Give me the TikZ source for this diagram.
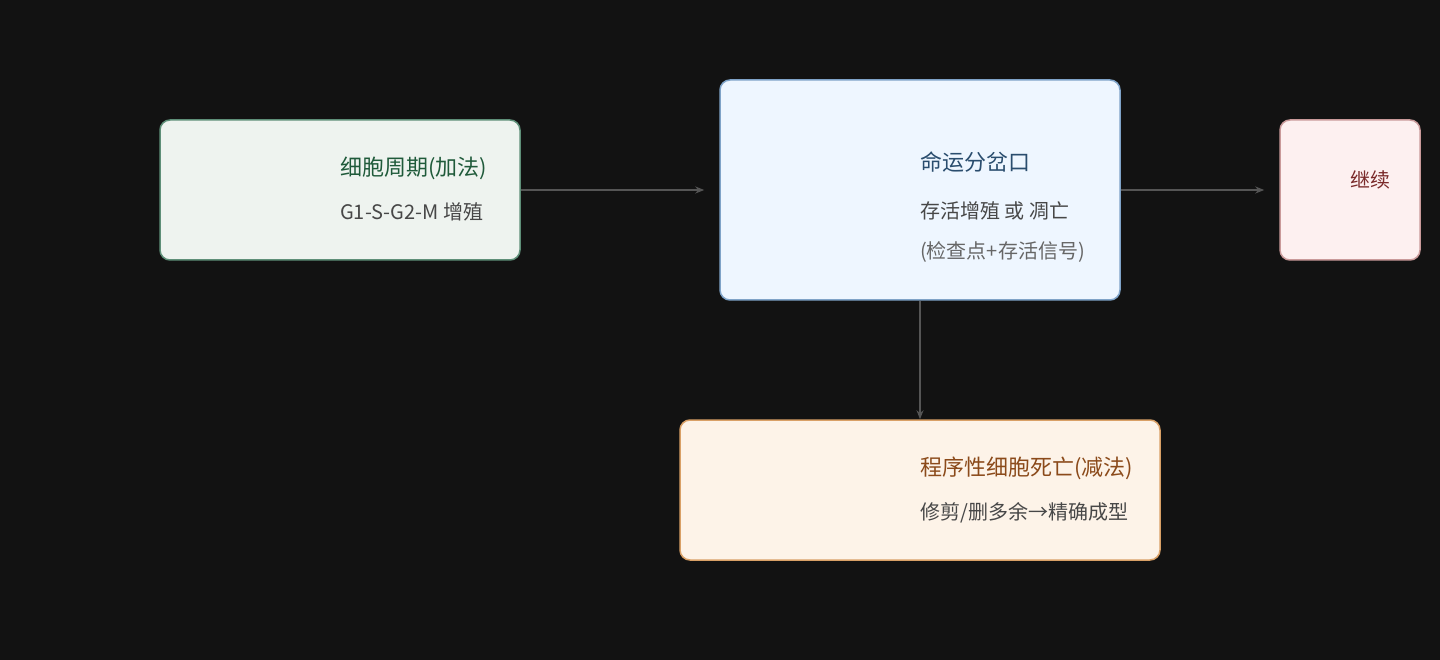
\documentclass[tikz,border=0pt]{standalone}
\usepackage{fontspec}
\setmainfont{Noto Sans CJK SC}
\usetikzlibrary{arrows.meta}
\definecolor{bgc}{HTML}{121212}
\definecolor{linec}{HTML}{555555}
\definecolor{grnline}{HTML}{5E8F78}
\definecolor{grnfill}{HTML}{EEF3EF}
\definecolor{grntext}{HTML}{1F5A3A}
\definecolor{bluline}{HTML}{7FA3C8}
\definecolor{blufill}{HTML}{EEF6FF}
\definecolor{blutext}{HTML}{2A4D6E}
\definecolor{redline}{HTML}{C99A9A}
\definecolor{redfill}{HTML}{FDF0F0}
\definecolor{redtext}{HTML}{7A2A2A}
\definecolor{orgline}{HTML}{D9A066}
\definecolor{orgfill}{HTML}{FDF3E8}
\definecolor{orgtext}{HTML}{8B4A1A}
\tikzset{
  box/.style={rounded corners=10pt,line width=1.5pt,inner sep=0pt},
  ttl/.style={anchor=base west,inner sep=0pt,font=\fontsize{22}{26}\selectfont},
  sub/.style={anchor=base west,inner sep=0pt,font=\fontsize{20}{24}\selectfont,text=black!72},
  flow/.style={-{Stealth[length=9pt,width=7pt]},draw=linec,line width=2pt}
}
\begin{document}
\begin{tikzpicture}[x=1pt,y=-1pt]
\fill[bgc] (0,0) rectangle (1440,660);
\useasboundingbox (0,0) rectangle (1440,660);

% boxes
\node[box,draw=grnline,fill=grnfill,minimum width=360pt,minimum height=140pt] (cycle) at (340,190) {};
\node[box,draw=bluline,fill=blufill,minimum width=400pt,minimum height=220pt] (fate) at (920,190) {};
\node[box,draw=redline,fill=redfill,minimum width=140pt,minimum height=140pt] (cont) at (1350,190) {};
\node[box,draw=orgline,fill=orgfill,minimum width=480pt,minimum height=140pt] (death) at (920,490) {};

% texts
\node[ttl,text=grntext] (cycleT) at (340,176) {细胞周期(加法)};
\node[sub] (cycleS) at (340,220) {G1-S-G2-M 增殖};
\node[ttl,text=blutext] (fateT) at (920,171) {命运分岔口};
\node[sub] (fateS) at (920,219) {存活增殖 或 凋亡};
\node[sub,text=black!60] (fateN) at (920,259) {(检查点+存活信号)};
\node[anchor=base west,inner sep=0pt,font=\fontsize{20}{24}\selectfont,text=redtext] (contT) at (1350,188) {继续};
\node[ttl,text=orgtext] (deathT) at (920,475) {程序性细胞死亡(减法)};
\node[sub] (deathS) at (920,519) {修剪/删多余→精确成型};

% connectors
\draw[flow,shorten >=15pt] (cycle.east) -- (fate.west);
\draw[flow,shorten >=15pt] (fate.east) -- (cont.west);
\draw[flow] (fate.south) -- (death.north);
\end{tikzpicture}
\end{document}
